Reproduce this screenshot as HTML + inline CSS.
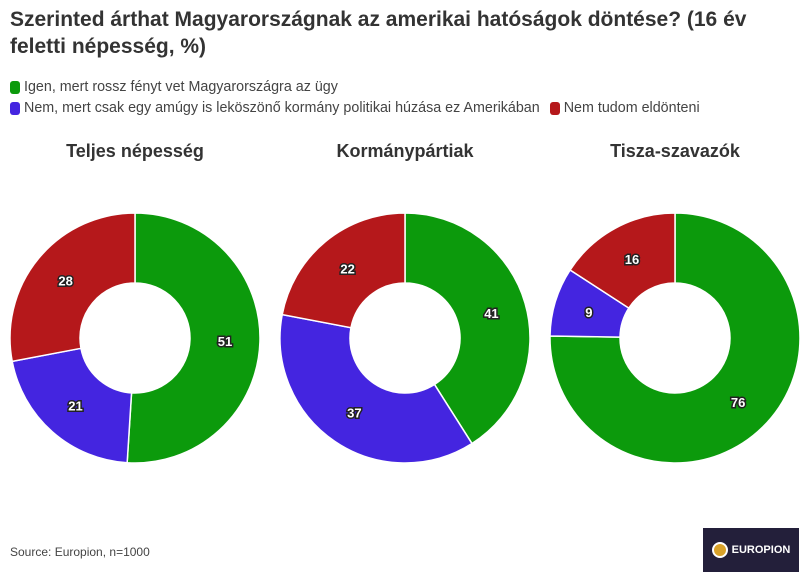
<!DOCTYPE html>
<html><head><meta charset="utf-8"><style>
body{margin:0;width:808px;height:586px;background:#fff;font-family:"Liberation Sans",sans-serif;position:relative;overflow:hidden;color:#333}
.t{position:absolute;left:10px;top:6px;font-size:21px;font-weight:bold;line-height:27px;color:#333;white-space:nowrap}
.lg{position:absolute;font-size:14.3px;color:#444;display:flex;align-items:center;white-space:nowrap}
.sw{display:inline-block;width:10px;height:13px;border-radius:3px;margin-right:4px}
.src{position:absolute;left:10px;top:545px;font-size:12px;color:#444}
.logo{position:absolute;left:703px;top:528px;width:96px;height:44px;background:#231f3a;color:#fff;font-size:11px;font-weight:bold;display:flex;align-items:center;justify-content:center}
</style></head><body>
<div class="t">Szerinted árthat Magyarországnak az amerikai hatóságok döntése? (16 év<br>feletti népesség, %)</div>
<div class="lg" style="left:10px;top:79px"><span class="sw" style="background:#0c9a0c"></span>Igen, mert rossz fényt vet Magyarországra az ügy</div>
<div class="lg" style="left:10px;top:100px"><span class="sw" style="background:#4425e0"></span>Nem, mert csak egy amúgy is leköszönő kormány politikai húzása ez Amerikában<span class="sw" style="background:#b5181b;margin-left:10px"></span>Nem tudom eldönteni</div>
<svg id="c" width="808" height="586" style="position:absolute;left:0;top:0"></svg>
<div class="src">Source: Europion, n=1000</div>
<div class="logo"><span style="display:inline-block;width:12px;height:12px;border-radius:50%;background:#d9a22a;border:2px solid #fff;margin-right:4px"></span>EUROPION</div>
<script>
const groups=["Teljes népesség","Kormánypártiak","Tisza-szavazók"];
const igen=[51,41,76];
const nem=[21,37,9];
const nemtudom=[28,22,16];
const colors=["#0c9a0c","#4425e0","#b5181b"];
const svg=document.getElementById('c');
const NS="http://www.w3.org/2000/svg";
const cy=338,R=125,r=55;
function pt(cx,a,rad){return [cx+rad*Math.sin(a),cy-rad*Math.cos(a)];}
groups.forEach((g,gi)=>{
  const cx=135+gi*270;
  const t=document.createElementNS(NS,'text');
  
  
  t.setAttribute('x',cx);t.setAttribute('y',157);t.setAttribute('text-anchor','middle');
  t.setAttribute('font-size','18');t.setAttribute('font-weight','bold');t.setAttribute('fill','#333');
  t.textContent=g;svg.appendChild(t);
  const vals=[igen[gi],nem[gi],nemtudom[gi]];const tot=vals.reduce((a,b)=>a+b,0);
  let a0=0;
  vals.forEach((v,i)=>{
    const a1=a0+v/tot*2*Math.PI;
    const [x1,y1]=pt(cx,a0,R),[x2,y2]=pt(cx,a1,R),[x3,y3]=pt(cx,a1,r),[x4,y4]=pt(cx,a0,r);
    const lg=(a1-a0)>Math.PI?1:0;
    const p=document.createElementNS(NS,'path');
    
    
    p.setAttribute('d',`M${x1},${y1}A${R},${R} 0 ${lg} 1 ${x2},${y2}L${x3},${y3}A${r},${r} 0 ${lg} 0 ${x4},${y4}Z`);
    p.setAttribute('fill',colors[i]);p.setAttribute('stroke','#fff');p.setAttribute('stroke-width','1.5');
    svg.appendChild(p);
    const [lx,ly]=pt(cx,(a0+a1)/2,90);
    const l=document.createElementNS(NS,'text');
    
    
    l.setAttribute('x',lx);l.setAttribute('y',ly+5);l.setAttribute('text-anchor','middle');
    l.setAttribute('font-size','13');l.setAttribute('font-weight','bold');l.setAttribute('fill','#fff');
    l.setAttribute('stroke','#222');l.setAttribute('stroke-width','3');l.setAttribute('paint-order','stroke');
    l.textContent=v;svg.appendChild(l);
    a0=a1;
  });
});
</script>
</body></html>
